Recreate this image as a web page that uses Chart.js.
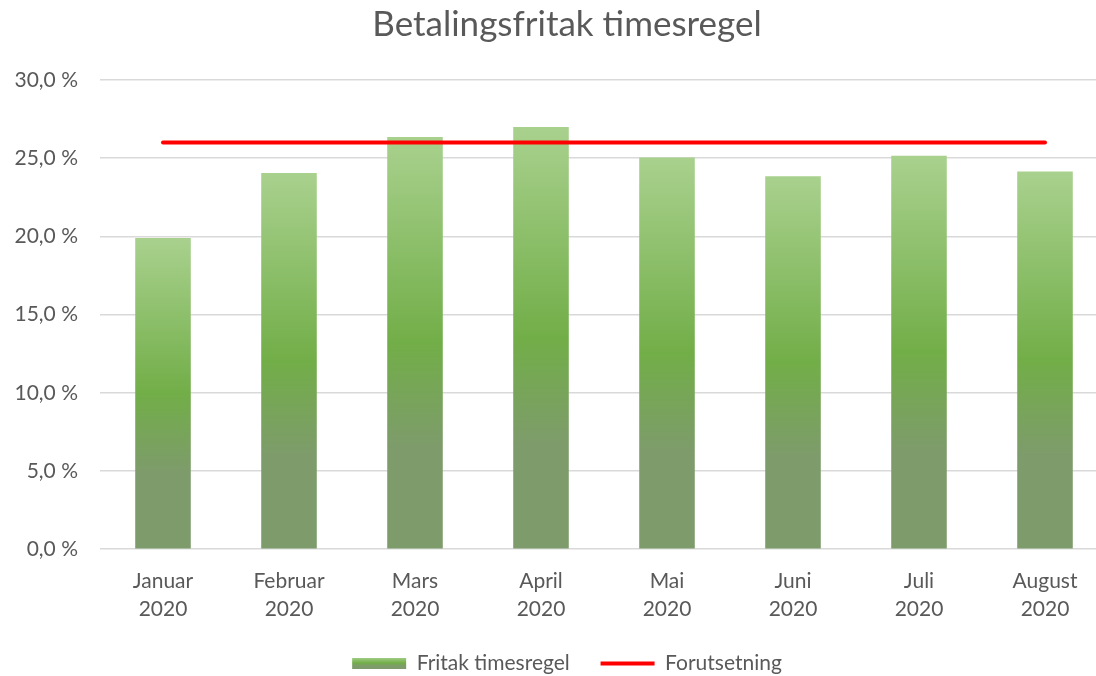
<!DOCTYPE html>
<html lang="no">
  <head>
    <meta charset="UTF-8" />
    <title>Betalingsfritak timesregel</title>
    <script src="https://cdn.jsdelivr.net/npm/chart.js@4"></script>
    <style>
      html, body { margin: 0; padding: 0; overflow: hidden; background: #fff; }
      #wrap { width: 1136px; height: 676px; }
    </style>
  </head>
  <body>
    <div id="wrap"><canvas id="myChart"></canvas></div>

    <script>
      const months = [
        ['Januar', '2020'], ['Februar', '2020'], ['Mars', '2020'], ['April', '2020'],
        ['Mai', '2020'], ['Juni', '2020'], ['Juli', '2020'], ['August', '2020']
      ];
      const fritak = [19.9, 24.05, 26.35, 27.0, 25.05, 23.85, 25.15, 24.15];
      const forutsetning = [26, 26, 26, 26, 26, 26, 26, 26];

      const textColor = '#595959';
      const fontName = 'Lato';

      function barGradient(ctx, top, bottom) {
        const g = ctx.createLinearGradient(0, top, 0, bottom);
        g.addColorStop(0, '#a9d18e');
        g.addColorStop(0.5, '#72ae48');
        g.addColorStop(0.76, '#7e9b6c');
        g.addColorStop(1, '#7e9b6c');
        return g;
      }

      const ctx = document.getElementById('myChart').getContext('2d');
      const myChart = new Chart(ctx, {
        data: {
          labels: months,
          datasets: [
            {
              type: 'line',
              label: 'Forutsetning',
              data: forutsetning,
              borderColor: '#ff0000',
              backgroundColor: '#ff0000',
              borderWidth: 4,
              borderCapStyle: 'round',
              pointRadius: 0,
              order: 0
            },
            {
              type: 'bar',
              label: 'Fritak timesregel',
              data: fritak,
              backgroundColor: function (c) {
                const chart = c.chart;
                if (!chart.chartArea || c.raw === undefined) return '#8cc06a';
                const y = chart.scales.y;
                return barGradient(chart.ctx, y.getPixelForValue(c.raw), y.getPixelForValue(0));
              },
              categoryPercentage: 0.9,
              barPercentage: 0.49,
              order: 1
            }
          ]
        },
        options: {
          responsive: true,
          maintainAspectRatio: false,
          animation: false,
          layout: { padding: { left: 13, right: 15, top: 0, bottom: -8 } },
          plugins: {
            title: {
              display: true,
              text: 'Betalingsfritak timesregel',
              color: textColor,
              font: { family: fontName, size: 35, weight: 'normal' },
              padding: { top: 4, bottom: 34 }
            },
            legend: {
              position: 'bottom',
              labels: {
                color: textColor,
                font: { family: fontName, size: 21 },
                usePointStyle: true,
                pointStyleWidth: 54,
                boxHeight: 11,
                padding: 20,
                generateLabels: function (chart) {
                  return [
                    {
                      text: 'Fritak timesregel  ',
                      pointStyle: 'rect',
                      fillStyle: barGradient(chart.ctx, 657, 669),
                      strokeStyle: 'rgba(0,0,0,0)',
                      lineWidth: 0,
                      fontColor: textColor,
                      datasetIndex: 1
                    },
                    {
                      text: 'Forutsetning',
                      pointStyle: 'line',
                      fillStyle: '#ff0000',
                      strokeStyle: '#ff0000',
                      lineWidth: 4,
                      fontColor: textColor,
                      datasetIndex: 0
                    }
                  ];
                }
              }
            },
            tooltip: { enabled: false }
          },
          scales: {
            x: {
              grid: { display: false },
              border: { display: false },
              ticks: {
                color: textColor,
                font: { family: fontName, size: 21, lineHeight: 1.33 },
                padding: 10,
                maxRotation: 0
              }
            },
            y: {
              min: 0,
              max: 30,
              grid: { color: '#d9d9d9', lineWidth: 1.5, drawTicks: false },
              border: { display: false },
              afterFit: function (scale) { scale.width = 87; },
              ticks: {
                stepSize: 5,
                color: textColor,
                font: { family: fontName, size: 21 },
                padding: 22,
                callback: v => v.toFixed(1).replace('.', ',') + ' %'
              }
            },
            spacer: {
              type: 'linear',
              position: 'right',
              grid: { display: false },
              border: { display: false },
              ticks: { display: false },
              afterFit: function (scale) { scale.width = 13; }
            }
          }
        }
      });
    </script>
  </body>
</html>
